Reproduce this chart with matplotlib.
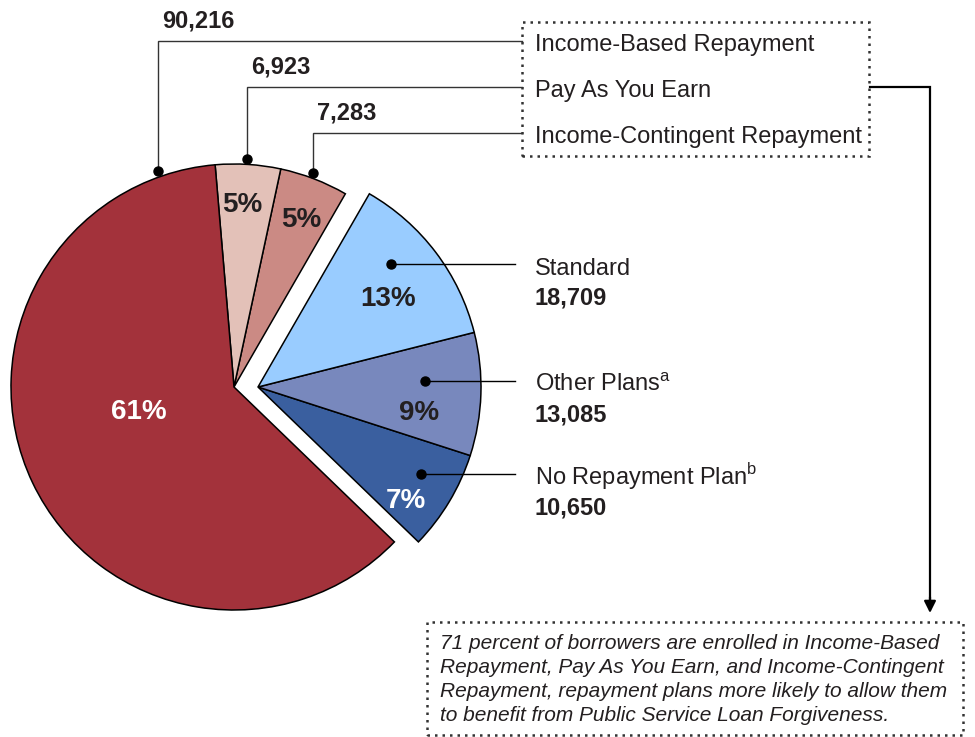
import matplotlib.pyplot as plt
import numpy as np
from matplotlib.patches import Rectangle

plt.rcParams['font.family'] = ['Liberation Sans', 'DejaVu Sans']
plt.rcParams['mathtext.fontset'] = 'custom'
plt.rcParams['mathtext.rm'] = 'Liberation Sans'

# Borrowers by repayment plan
idr_plans = ['Income-Based Repayment', 'Pay As You Earn', 'Income-Contingent Repayment']
idr_counts = [90216, 6923, 7283]
idr_colors = ['#A3323B', '#E3C1B8', '#CB8A84']

other_plans = ['Standard', 'Other Plans$^{\\mathrm{a}}$', 'No Repayment Plan$^{\\mathrm{b}}$']
other_counts = [18709, 13085, 10650]
other_colors = ['#99CCFF', '#7888BD', '#3A5F9F']

note_lines = [
    '71 percent of borrowers are enrolled in Income-Based',
    'Repayment, Pay As You Earn, and Income-Contingent',
    'Repayment, repayment plans more likely to allow them',
    'to benefit from Public Service Loan Forgiveness.',
]

W, H = 975, 737
TXT = '#231f20'


def Y(y):
    return H - y


def polar(c, r, ang):
    a = np.radians(ang)
    return c[0] + r * np.cos(a), c[1] + r * np.sin(a)


def ctext(x, y, s, size, **kw):
    # place text so that its cap height is centred on y (pixels from top)
    ax.text(x, Y(y) - 0.358 * size * 100 / 72, s, fontsize=size, va='baseline', **kw)


fig = plt.figure(figsize=(W / 100, H / 100), dpi=100)
ax = fig.add_axes([0, 0, 1, 1])

total = sum(idr_counts) + sum(other_counts)
other_share = sum(other_counts) / total
start = -44.0
R = 223
red_c = (234, Y(387))
blue_c = (red_c[0] + 24, red_c[1])
wp = dict(edgecolor='black', linewidth=1.1)

# pie is drawn counterclockwise, so reverse the order of each group
blue_w, _ = ax.pie([v / total for v in other_counts[::-1]], colors=other_colors[::-1],
                   startangle=start, radius=R, center=blue_c, wedgeprops=wp,
                   normalize=False)
red_w, _ = ax.pie([v / total for v in idr_counts[::-1]], colors=idr_colors[::-1],
                  startangle=start + 360 * other_share, radius=R, center=red_c,
                  wedgeprops=wp, normalize=False)
blue_w = blue_w[::-1]
red_w = red_w[::-1]


def mid(w):
    return (w.theta1 + w.theta2) / 2


# percentage labels
pct_r = [0.44, 0.83, 0.82]
pct_da = [-12.5, 1.2, -0.7]
pct_col = ['white', TXT, TXT]
for w, v, r, da, col in zip(red_w, idr_counts, pct_r, pct_da, pct_col):
    x, y = polar(red_c, r * R, mid(w) + da)
    ctext(x, H - y, f'{round(v / total * 100)}%', 20, ha='center',
          fontweight='bold', color=col)

pct_r = [0.71, 0.73, 0.83]
pct_da = [-2.1, -6.2, -6.1]
pct_col = [TXT, TXT, 'white']
for w, v, r, da, col in zip(blue_w, other_counts, pct_r, pct_da, pct_col):
    x, y = polar(blue_c, r * R, mid(w) + da)
    ctext(x, H - y, f'{round(v / total * 100)}%', 20, ha='center',
          fontweight='bold', color=col)

# callouts for the income-driven plans
rows = [41, 87, 133]
dot_da = [-96.0, 0.4, 0.7]
box_l, box_r, box_t, box_b = 522, 869, 22, 156
for w, v, name, row, da in zip(red_w, idr_counts, idr_plans, rows, dot_da):
    x, y = polar(red_c, R * 1.025, mid(w) + da)
    ax.plot([x, x, box_l], [y, Y(row), Y(row)], color='#333333', lw=1.0,
            solid_joinstyle='miter')
    ax.plot(x, y, 'o', color='black', ms=6.5)
    ctext(x + 4, row - 21.5, f'{v:,}', 17, ha='left', fontweight='bold', color=TXT)
    ctext(535, row + 1.5, name, 17, ha='left', color=TXT)

ax.add_patch(Rectangle((box_l, Y(box_b)), box_r - box_l, box_b - box_t, fill=False,
                       edgecolor='#333333', lw=1.8, linestyle=(0, (1, 2))))

# callouts for the remaining plans
dot_r = [0.81, 0.75, 0.83]
dot_da = [5.7, 4.0, 2.9]
for w, v, name, r, da in zip(blue_w, other_counts, other_plans, dot_r, dot_da):
    x, y = polar(blue_c, r * R, mid(w) + da)
    ax.plot([x, 515], [y, y], color='black', lw=1.0)
    ax.plot(x, y, 'o', color='black', ms=6.5)
    ctext(535, H - y + 2, name, 17, ha='left', color=TXT)
    ctext(535, H - y + 32, f'{v:,}', 17, ha='left', fontweight='bold', color=TXT)

# connector down to the note
ax.plot([box_r + 1, 930, 930], [Y(87), Y(87), Y(600)], color='black', lw=1.6,
        solid_joinstyle='miter')
ax.annotate('', xy=(930, Y(613)), xytext=(930, Y(597)),
            arrowprops=dict(arrowstyle='-|>,head_length=0.7,head_width=0.35',
                            color='black', lw=1.6, shrinkA=0, shrinkB=0))

nl, nr, nt, nb = 427, 963, 622, 735
ax.add_patch(Rectangle((nl, Y(nb)), nr - nl, nb - nt, fill=False,
                       edgecolor='#333333', lw=1.8, linestyle=(0, (1, 2))))
for i, line in enumerate(note_lines):
    ctext(440, 642 + i * 23.7, line, 15, ha='left', style='italic', color=TXT)

ax.set_xlim(0, W)
ax.set_ylim(0, H)
ax.set_aspect('equal')
ax.set_axis_off()

plt.savefig('out.png', dpi=100)
